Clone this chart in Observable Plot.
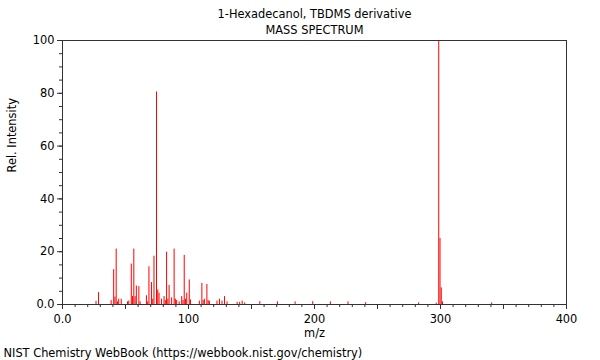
<!DOCTYPE html>
<html>
<head>
<meta charset="utf-8">
<script src="https://cdn.jsdelivr.net/npm/d3@7"></script>
<script src="https://cdn.jsdelivr.net/npm/@observablehq/plot@0.6"></script>
<style>
  html, body { margin: 0; padding: 0; background: #fff; }
</style>
</head>
<body>
<div id="chart"></div>
<script>
const titleText = "1-Hexadecanol, TBDMS derivative";
const subtitleText = "MASS SPECTRUM";
const xLabel = "m/z";
const yLabel = "Rel. Intensity";
const captionText = "NIST Chemistry WebBook (https://webbook.nist.gov/chemistry)";

const mz = [27, 29, 39, 41, 42, 43, 44, 45, 47, 52, 53, 55, 56, 57, 58, 59, 61, 62,
  67, 68, 69, 71, 72, 73, 75, 76, 77, 79, 81, 82, 83, 84, 85, 87, 89, 90, 91, 93,
  95, 96, 97, 98, 99, 101, 102, 109, 111, 112, 113, 115, 116, 117, 123, 125, 127,
  129, 131, 139, 141, 143, 145, 157, 171, 185, 199, 213, 227, 241, 283, 297, 299,
  300, 301, 302, 341];
const intensity = [1.2, 4.5, 1.5, 13.2, 2.8, 21, 1, 2, 2, 1, 1.3, 15.3, 3, 21, 3, 7, 6.8, 1,
  3.3, 1, 14.3, 8.3, 2, 18.3, 80.5, 5.5, 4.3, 2, 3, 1.5, 19.8, 2, 7.2, 2.5, 21, 2, 1.5, 1,
  3, 1.5, 18.6, 2, 4.3, 9.3, 1.7, 1.3, 8, 1.5, 2, 7.6, 1.5, 1.2, 1.3, 2, 1.3,
  3, 1, 0.8, 0.8, 1.3, 0.6, 1.1, 1, 1, 1.1, 1, 1, 0.7, 0.6, 0.5, 100,
  25, 6.3, 1, 0.6];

const xMajor = [0, 50, 100, 150, 200, 250, 300, 350, 400];
const xMinor = d3.range(0, 401, 10);
const yMajor = [0, 20, 40, 60, 80, 100];
const yMinor = d3.range(0, 101, 5);

const peaks = mz.map((m, i) => ({mz: m, rel: intensity[i]}));
const fmt = d => d === 0 ? "0.0" : String(d);

const chart = Plot.plot({
  width: 600,
  height: 360,
  marginLeft: 62,
  marginRight: 34,
  marginTop: 40,
  marginBottom: 56,
  x: {domain: [0, 400]},
  y: {domain: [0, 100]},
  style: {fontFamily: "DejaVu Sans", fontSize: "11.4px", color: "#000", background: "#fff"},
  marks: [
    Plot.ruleX(peaks, {x: "mz", y1: 0, y2: "rel", stroke: "#ff0000", strokeWidth: 1, dx: -0.5}),
    Plot.frame({stroke: "#333"}),
    Plot.axisY(yMinor, {tickSize: 3, stroke: "#333", fill: "none", label: null}),
    Plot.axisY(yMajor, {tickSize: 5, tickPadding: 3, stroke: "#333", fill: "#000", tickFormat: fmt, label: null}),
    Plot.axisX(xMinor, {tickSize: 3, stroke: "#333", fill: "none", label: null}),
    Plot.axisX(xMajor, {tickSize: 5, stroke: "#333", fill: "none", label: null}),
    Plot.axisX([0, 100, 200, 300, 400], {tickSize: 5, tickPadding: 5, stroke: "#333", fill: "#000",
      tickFormat: fmt, label: null}),
    Plot.text([titleText], {frameAnchor: "top", lineAnchor: "middle", dy: -26, text: d => d, fill: "#000"}),
    Plot.text([subtitleText], {frameAnchor: "top", lineAnchor: "middle", dy: -10, text: d => d, fill: "#000"}),
    Plot.text([xLabel], {frameAnchor: "bottom", lineAnchor: "middle", dy: 29, text: d => d, fill: "#000"}),
    Plot.text([yLabel], {frameAnchor: "left", lineAnchor: "middle", dx: -50, rotate: -90, text: d => d, fill: "#000"}),
    Plot.text([captionText], {frameAnchor: "bottom-left", lineAnchor: "middle", dx: -59, dy: 49, textAnchor: "start", text: d => d, fill: "#000"})
  ]
});
document.getElementById("chart").appendChild(chart);
</script>
</body>
</html>
